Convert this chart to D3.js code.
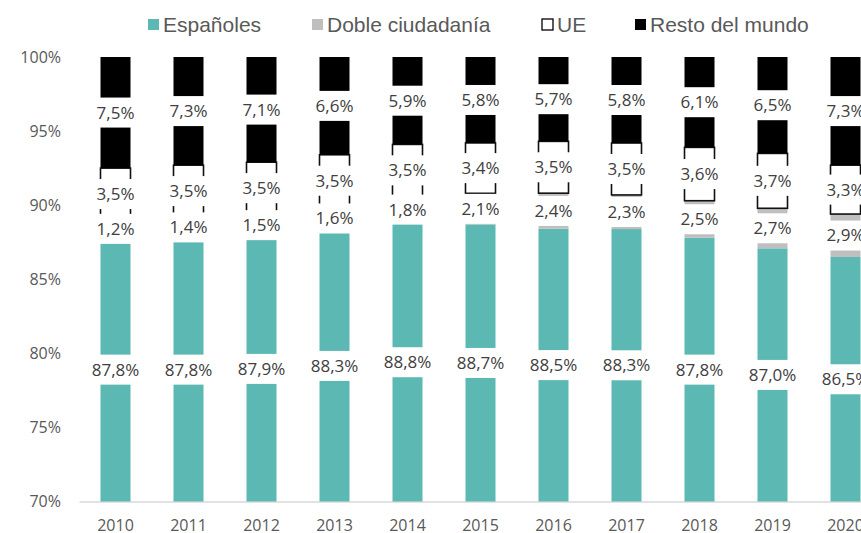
<!DOCTYPE html>
<html>
<head>
<meta charset="utf-8">
<script src="https://cdn.jsdelivr.net/npm/d3@7"></script>
<style>
  body { margin: 0; background: #fff; }
  svg { display: block; font-family: "Open Sans", sans-serif; }
</style>
</head>
<body>
<div id="chart"></div>
<script>
// Data (percent of population)
const years = ["2010", "2011", "2012", "2013", "2014", "2015", "2016", "2017", "2018", "2019", "2020"];
const espanoles = [87.8, 87.8, 87.9, 88.3, 88.8, 88.7, 88.5, 88.3, 87.8, 87.0, 86.5];
const doble = [1.2, 1.4, 1.5, 1.6, 1.8, 2.1, 2.4, 2.3, 2.5, 2.7, 2.9];
const ue = [3.5, 3.5, 3.5, 3.5, 3.5, 3.4, 3.5, 3.5, 3.6, 3.7, 3.3];
const resto = [7.5, 7.3, 7.1, 6.6, 5.9, 5.8, 5.7, 5.8, 6.1, 6.5, 7.3];
const seriesNames = ["Españoles", "Doble ciudadanía", "UE", "Resto del mundo"];
const yTicks = [0.70, 0.75, 0.80, 0.85, 0.90, 0.95, 1.00];

const width = 861;
const height = 533;

// Build rows for the stack
const rows = years.map((yr, i) => ({
    year: yr,
    "Españoles": espanoles[i],
    "Doble ciudadanía": doble[i],
    "UE": ue[i],
    "Resto del mundo": resto[i]
}));

const stack = d3.stack()
    .keys(seriesNames)
    .offset(d3.stackOffsetExpand);
const stacked = stack(rows);

const fills = {
    "Españoles": "#5cb8b2",
    "Doble ciudadanía": "#bfbfbf",
    "UE": "#ffffff",
    "Resto del mundo": "#000000"
};

const x = d3.scaleBand()
    .domain(years)
    .range([79, 882])
    .paddingInner(0.589)
    .paddingOuter(0.2945);

const y = d3.scaleLinear()
    .domain([0.70, 1.00])
    .range([501.5, 57])
    .clamp(true);

const svg = d3.select("#chart")
    .append("svg")
    .attr("width", width)
    .attr("height", height);

// Y tick labels (no axis line, no gridlines)
svg.append("g")
    .selectAll("text")
    .data(yTicks)
    .enter()
    .append("text")
    .attr("x", 61)
    .attr("y", d => y(d))
    .attr("dy", "0.35em")
    .attr("text-anchor", "end")
    .attr("font-size", 16)
    .attr("fill", "#595959")
    .text(d => Math.round(d * 100) + "%");

// Bottom axis
const xAxis = svg.append("g")
    .attr("transform", `translate(0,${y(0.70)})`)
    .call(d3.axisBottom(x).tickSize(0).tickPadding(18));
xAxis.select(".domain").attr("stroke", "#d9d9d9").attr("stroke-width", 1.5);
xAxis.selectAll("text")
    .attr("font-family", "Open Sans, sans-serif")
    .attr("font-size", 16)
    .attr("fill", "#595959");

// Stacked bars
const bars = svg.append("g");
stacked.forEach(layer => {
    const isUE = layer.key === "UE";
    bars.append("g")
        .selectAll("rect")
        .data(layer)
        .enter()
        .append("rect")
        .attr("x", d => x(d.data.year))
        .attr("y", d => y(d[1]))
        .attr("width", x.bandwidth())
        .attr("height", d => Math.max(0, y(d[0]) - y(d[1])))
        .attr("fill", fills[layer.key])
        .attr("stroke", isUE ? "#111" : "none")
        .attr("stroke-width", isUE ? 1.6 : 0);
});

// Data labels with white background boxes
const fmt = v => v.toFixed(1).replace(".", ",") + "%";
const labels = svg.append("g");
stacked.forEach(layer => {
    layer.forEach(d => {
        const cx = x(d.data.year) + x.bandwidth() / 2;
        const cy = (y(d[0]) + y(d[1])) / 2;
        const g = labels.append("g");
        const box = g.append("rect").attr("fill", "#fff");
        const t = g.append("text")
            .attr("x", cx)
            .attr("y", cy)
            .attr("dy", "0.35em")
            .attr("text-anchor", "middle")
            .attr("font-size", 17)
            .attr("fill", "#404040")
            .text(fmt(d.data[layer.key]));
        const w = t.node().getComputedTextLength() + 6;
        box.attr("x", cx - w / 2)
            .attr("y", cy - 15)
            .attr("width", w)
            .attr("height", 30);
    });
});

// Legend
const legendX = [148, 312, 542, 635];
const legend = svg.append("g");
seriesNames.forEach((name, i) => {
    legend.append("rect")
        .attr("x", legendX[i])
        .attr("y", 19)
        .attr("width", 11)
        .attr("height", 11)
        .attr("fill", fills[name])
        .attr("stroke", name === "UE" ? "#000" : "none")
        .attr("stroke-width", name === "UE" ? 1.3 : 0);
    legend.append("text")
        .attr("x", legendX[i] + 15)
        .attr("y", 24.5)
        .attr("dy", "0.35em")
        .attr("font-family", "Liberation Sans, Arial, sans-serif")
        .attr("font-size", 21)
        .attr("fill", "#595959")
        .text(name);
});
</script>
</body>
</html>
